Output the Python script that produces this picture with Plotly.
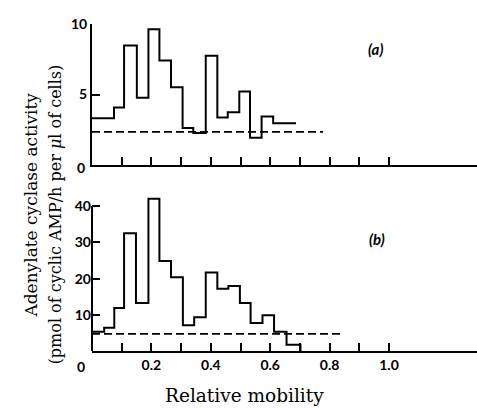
import plotly.graph_objects as go

# ---------------- data ----------------
# panel (a): bin edges (relative mobility) and adenylate cyclase activity
a_edges = [0, 0.074, 0.108, 0.151, 0.190, 0.227, 0.266, 0.305, 0.341, 0.383,
           0.422, 0.457, 0.496, 0.532, 0.571, 0.610, 0.687]
a_values = [3.32, 4.08, 8.49, 4.78, 9.64, 7.42, 5.52, 2.63, 2.28, 7.76,
            3.37, 3.74, 5.22, 1.93, 3.44, 2.97]
a_baseline = 2.35
a_baseline_end = 0.778

# panel (b)
b_edges = [0, 0.041, 0.075, 0.108, 0.148, 0.190, 0.227, 0.266, 0.306, 0.344,
           0.383, 0.422, 0.459, 0.498, 0.534, 0.574, 0.613, 0.655, 0.702]
b_values = [5.4, 6.5, 11.9, 32.5, 13.3, 42.0, 24.9, 20.4, 7.2, 9.4,
            21.7, 17.2, 18.0, 13.3, 7.8, 9.9, 5.4, 1.8]
b_baseline = 4.8
b_baseline_end = 0.835

x_tickvals = [0.1, 0.2, 0.3, 0.4, 0.5, 0.6, 0.7, 0.8, 0.9, 1.0]
x_ticktext = ["", "0.2", "", "0.4", "", "0.6", "", "0.8", "", "1.0"]
a_ytickvals = [5, 10]
b_ytickvals = [10, 20, 30, 40]

W, H = 477, 408


def px(x):
    return x / W


def py(y):
    return 1 - y / H


fig = go.Figure()

line_style = dict(color="black", width=2)
dash_style = dict(color="black", width=1.6, dash="8px,4px")

# panel (a) on x2/y2
fig.add_trace(go.Scatter(x=a_edges, y=a_values + [a_values[-1]], mode="lines",
                         line_shape="hv", line=line_style, xaxis="x2", yaxis="y2",
                         showlegend=False, hoverinfo="skip"))
fig.add_trace(go.Scatter(x=[0, a_baseline_end], y=[a_baseline, a_baseline], mode="lines",
                         line=dash_style, xaxis="x2", yaxis="y2", showlegend=False,
                         hoverinfo="skip"))

# panel (b) on x/y
fig.add_trace(go.Scatter(x=b_edges, y=b_values + [0], mode="lines",
                         line_shape="hv", line=line_style, xaxis="x", yaxis="y",
                         showlegend=False, hoverinfo="skip"))
fig.add_trace(go.Scatter(x=[0, b_baseline_end], y=[b_baseline, b_baseline], mode="lines",
                         line=dash_style, xaxis="x", yaxis="y", showlegend=False,
                         hoverinfo="skip"))

x_domain = [px(92), 1]
x_range = [0, (W - 92) / 297]

tick_font = dict(family="Lato", size=14, color="black", weight="bold")

common_x = dict(range=x_range, domain=x_domain, showgrid=False, zeroline=False,
                showline=True, linecolor="black", linewidth=2,
                tickmode="array", ticks="inside", ticklen=8, tickwidth=2,
                tickcolor="black",
                tickvals=x_tickvals, ticktext=x_ticktext, tickfont=tick_font)

common_y = dict(showgrid=False, zeroline=False,
                tickmode="array", ticks="inside", ticklen=8, tickwidth=2,
                tickcolor="black", tickfont=tick_font)

fig.update_layout(
    width=W, height=H,
    margin=dict(l=0, r=0, t=0, b=0),
    paper_bgcolor="white", plot_bgcolor="white",
    xaxis=dict(common_x, anchor="y"),
    xaxis2=dict(common_x, anchor="y2", showticklabels=False),
    yaxis=dict(common_y, range=[0, 43], domain=[py(350), py(190.4)], anchor="x",
               showline=False,
               tickvals=b_ytickvals, ticktext=[str(v) for v in b_ytickvals]),
    yaxis2=dict(common_y, range=[0, 10], domain=[py(159.5), py(15.5)], anchor="x2",
                showline=True, linecolor="black", linewidth=2,
                tickvals=a_ytickvals, ticktext=[str(v) for v in a_ytickvals]),
)

# bottom panel y-axis line only up to 40
fig.add_shape(type="line", xref="x domain", yref="y", x0=0, x1=0, y0=0, y1=40,
              line=dict(color="black", width=2))

serif = "DejaVu Serif"
lab_font = dict(family="Lato", size=15, color="black", weight="bold")
ann = [
    dict(text="0", x=px(81), y=py(162), font=tick_font),
    dict(text="0", x=px(81), y=py(366), font=tick_font),
    dict(text="<i>(a)</i>", x=px(375), y=py(41), font=lab_font),
    dict(text="<i>(b)</i>", x=px(377), y=py(235), font=lab_font),
    dict(text="Relative mobility", x=px(244), y=py(395), font=dict(family=serif, size=18.5, color="black")),
    dict(text="Adenylate cyclase activity", x=px(31), y=py(201), textangle=-90,
         font=dict(family=serif, size=17, color="black")),
    dict(text="(pmol of cyclic AMP/h per <i>μ</i>l of cells)", x=px(55), y=py(210), textangle=-90,
         font=dict(family=serif, size=16, color="black")),
]
for a in ann:
    fig.add_annotation(xref="paper", yref="paper", showarrow=False,
                       xanchor="center", yanchor="middle", **a)

fig.write_html("out.html")
